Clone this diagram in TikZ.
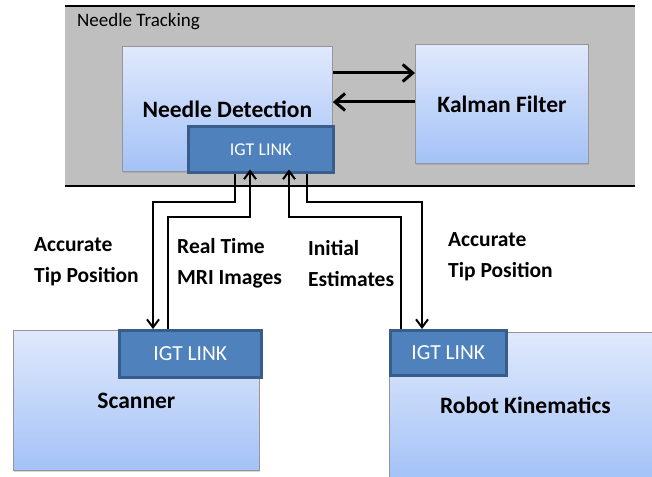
\documentclass[tikz,border=0pt]{standalone}
\usepackage{fontspec}
\setmainfont{Carlito}
\usetikzlibrary{arrows.meta,shadows}
\definecolor{panelgray}{RGB}{191,191,191}
\definecolor{boxtop}{RGB}{224,233,252}
\definecolor{boxbot}{RGB}{164,194,247}
\definecolor{linkfill}{RGB}{79,129,189}
\definecolor{linkdraw}{RGB}{56,93,138}
\definecolor{boxedge}{RGB}{150,150,150}
\begin{document}
\begin{tikzpicture}[x=1pt,y=-1pt,
  blockbox/.style={draw=boxedge, line width=0.8pt, top color=boxtop, bottom color=boxbot,
    anchor=north west, inner sep=0pt, font=\fontsize{23.5}{28}\selectfont\bfseries,
    drop shadow={shadow xshift=1pt,shadow yshift=-1.5pt,opacity=0.3}},
  linkbox/.style={draw=linkdraw, line width=2.5pt, fill=linkfill, anchor=north west,
    inner sep=0pt, text=white, font=\fontsize{21.5}{26}\selectfont},
  lbl/.style={anchor=west, align=left, inner sep=0pt, font=\fontsize{21.5}{31}\selectfont\bfseries},
  conn/.style={line width=2pt, -{Straight Barb[length=8pt,width=12pt]}},
  bigconn/.style={line width=3pt, -{Straight Barb[length=10pt,width=17pt]}},
  rule/.style={line width=2pt}
]
\useasboundingbox (0,0) rectangle (652,476);
\fill[white] (0,0) rectangle (652,476);

% panel
\node[fill=panelgray, anchor=north west, inner sep=0pt, minimum width=570pt, minimum height=180pt] (panel) at (65,6) {};
\draw[rule] (panel.north west) -- (panel.north east);
\draw[rule] (panel.south west) -- (panel.south east);
\node[anchor=base west, inner sep=0pt, font=\fontsize{19}{23}\selectfont] (ttl) at (77,27) {Needle Tracking};

% top blocks
\node[blockbox, minimum width=210pt, minimum height=125pt] (nd) at (122,46) {Needle Detection};
\node[linkbox, minimum width=145pt, minimum height=46pt, font=\fontsize{18}{22}\selectfont] (ndlink) at (187,125) {IGT LINK};
\node[blockbox, minimum width=173pt, minimum height=119pt] (kf) at (415,44) {Kalman Filter};

% bottom blocks
\node[blockbox, minimum width=246pt, minimum height=140pt] (sc) at (13,330) {Scanner};
\node[linkbox, minimum width=142pt, minimum height=47pt] (sclink) at (118,329) {IGT LINK};
\node[blockbox, minimum width=272pt, minimum height=146pt] (rk) at (389,332) {Robot Kinematics};
\node[linkbox, minimum width=116pt, minimum height=45pt] (rklink) at (389,329) {IGT LINK};

% arrows between ND and KF
\coordinate (r1) at (0,73);
\coordinate (r2) at (0,102);
\draw[bigconn] (nd.east |- r1) -- (kf.west |- r1);
\draw[bigconn] (kf.west |- r2) -- (nd.east |- r2);

% connectors
\coordinate (k1) at (235,202);
\coordinate (k2) at (153,202);
\coordinate (k3) at (168,217);
\coordinate (k4) at (250,217);
\coordinate (k5) at (289,217);
\coordinate (k6) at (401,217);
\coordinate (k7) at (307,202);
\coordinate (k8) at (422,202);
\coordinate (t2) at ([yshift=4pt]ndlink.south);

\draw[conn] (ndlink.south -| k1) -- (k1) -- (k2) -- (k2 |- sclink.north);
\draw[conn] (sclink.north -| k3) -- (k3) -- (k4) -- (t2 -| k4);
\draw[conn] (rklink.north -| k6) -- (k6) -- (k5) -- (t2 -| k5);
\draw[conn] (ndlink.south -| k7) -- (k7) -- (k8) -- (k8 |- rklink.north);

% labels
\node[lbl] (l1) at (34,261.5) {Accurate\\Tip Position};
\node[lbl] (l2) at (177,263.5) {Real Time\\MRI Images};
\node[lbl] (l3) at (308,263.5) {Initial\\Estimates};
\node[lbl] (l4) at (448,256.5) {Accurate\\Tip Position};
\end{tikzpicture}
\end{document}
